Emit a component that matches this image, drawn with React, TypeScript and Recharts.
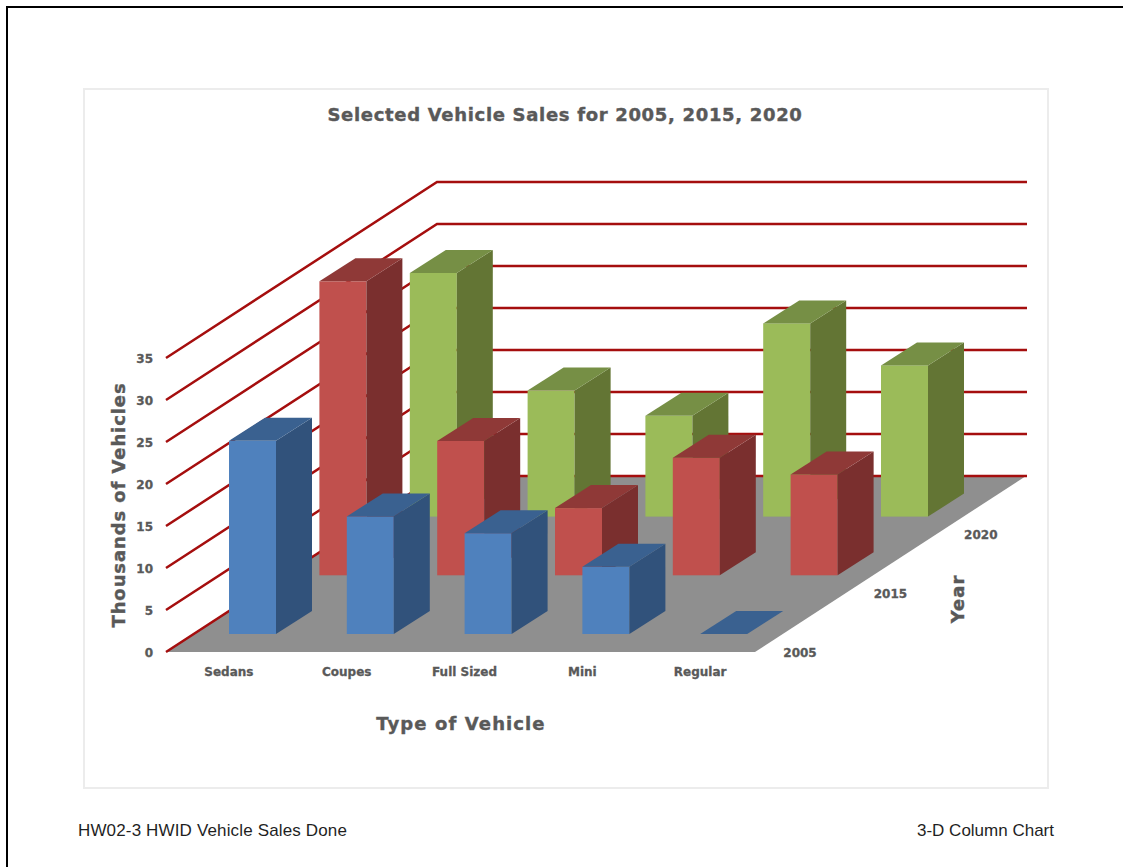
import { Bar, BarChart, CartesianGrid, XAxis, YAxis } from "recharts";

const categories = ["Sedans", "Coupes", "Full Sized", "Mini", "Regular"];
const years = ["2005", "2015", "2020"];
const sales2005 = [23, 14, 12, 8, 0];
const sales2015 = [35, 16, 8, 14, 12];
const sales2020 = [29, 15, 12, 23, 18];
const yTicks = [0, 5, 10, 15, 20, 25, 30, 35];

const data = categories.map((name, i) => ({
    name,
    y2005: sales2005[i],
    y2015: sales2015[i],
    y2020: sales2020[i],
}));

// the fake 3-D projection: one row back moves the mark by this much
const ROW_DX = 90.4;
const ROW_DY = 58.7;
const FRONT_DX = 28;
const FRONT_DY = 18;
const COL_DEPTH_X = 36;
const COL_DEPTH_Y = 23;
const FLOOR_DX = 271;
const FLOOR_DY = 176;

const LEFT = 166;
const RIGHT = 755;
const BASE = 652;

const HEAVY = "'DejaVu Sans', sans-serif";
const TEXT_GRAY = "#595959";

const blue = { front: "#4f81bd", side: "#31527b", top: "#3a6190" };
const red = { front: "#c0504d", side: "#7a2f2e", top: "#8f3937" };
const green = { front: "#9bbb59", side: "#637534", top: "#768f45" };

const labelStyle = { stroke: TEXT_GRAY, strokeWidth: 0.4 };
const tickStyle = { fill: TEXT_GRAY, fontSize: 12, fontWeight: 700, fontFamily: HEAVY, stroke: TEXT_GRAY, strokeWidth: 0.3 };

function column(row: number, colors: { front: string; side: string; top: string }) {
    return (props: any) => {
        const x = props.x + FRONT_DX + row * ROW_DX;
        const y = props.y - FRONT_DY - row * ROW_DY;
        const w = props.width;
        const h = props.height;
        return (
            <g>
                <rect x={x} y={y} width={w} height={h} fill={colors.front} />
                <polygon
                    points={`${x + w},${y} ${x + w + COL_DEPTH_X},${y - COL_DEPTH_Y} ${x + w + COL_DEPTH_X},${y + h - COL_DEPTH_Y} ${x + w},${y + h}`}
                    fill={colors.side}
                />
                <polygon
                    points={`${x},${y} ${x + COL_DEPTH_X},${y - COL_DEPTH_Y} ${x + w + COL_DEPTH_X},${y - COL_DEPTH_Y} ${x + w},${y}`}
                    fill={colors.top}
                />
            </g>
        );
    };
}

// gridlines run up the left wall and then along the back wall, the zero line also carries the floor
function wallLine(props: any) {
    const { x1, y1, index } = props;
    return (
        <g key={index}>
            {Math.abs(y1 - BASE) < 1 && (
                <polygon
                    points={`${LEFT},${BASE} ${RIGHT},${BASE} ${RIGHT + FLOOR_DX},${BASE - FLOOR_DY} ${LEFT + FLOOR_DX},${BASE - FLOOR_DY}`}
                    fill="#8f8f8f"
                />
            )}
            <polyline
                points={`${x1},${y1} ${x1 + FLOOR_DX},${y1 - FLOOR_DY} ${x1 + FLOOR_DX + RIGHT - LEFT + 1},${y1 - FLOOR_DY}`}
                fill="none"
                stroke="#a50e0e"
                strokeWidth={2.5}
            />
        </g>
    );
}

export default function App() {
    return (
        <div style={{ position: "absolute", left: 0, top: 0, width: 1123, height: 867, overflow: "hidden", background: "#fff" }}>
            <div style={{ position: "absolute", left: 6, top: 6, width: 1123, height: 867, borderLeft: "2px solid #000", borderTop: "2px solid #000" }} />
            <div style={{ position: "absolute", left: 83, top: 88, width: 962, height: 697, border: "2px solid #ececec" }} />
            <div style={{ position: "absolute", left: 78, top: 821, font: "17px 'Liberation Sans'", color: "#1f1f1f", letterSpacing: 0.15 }}>HW02-3 HWID Vehicle Sales Done</div>
            <div style={{ position: "absolute", right: 69, top: 821, font: "17px 'Liberation Sans'", color: "#1f1f1f" }}>3-D Column Chart</div>
            <div style={{ position: "absolute", left: 0, top: 0 }}>
                <BarChart
                    width={1123}
                    height={867}
                    data={data}
                    barSize={47}
                    barGap={-47}
                    margin={{ top: 358, right: 368, bottom: 185, left: 106 }}
                >
                    <CartesianGrid vertical={false} horizontal={wallLine} />
                    <XAxis
                        dataKey="name"
                        height={30}
                        axisLine={false}
                        tickLine={false}
                        tickMargin={8}
                        interval={0}
                        tick={{ dx: 4, dy: 1, ...tickStyle }}
                    />
                    <YAxis
                        width={60}
                        domain={[0, 35]}
                        ticks={yTicks}
                        axisLine={false}
                        tickLine={false}
                        tickMargin={7}
                        tick={{ dy: 1, ...tickStyle }}
                    />
                    <Bar dataKey="y2020" isAnimationActive={false} shape={column(2, green)} />
                    <Bar dataKey="y2015" isAnimationActive={false} shape={column(1, red)} />
                    <Bar dataKey="y2005" isAnimationActive={false} shape={column(0, blue)} />
                    {years.map((year, i) => (
                        <text
                            key={year}
                            x={RIGHT + 45 + i * ROW_DX}
                            y={BASE - i * 59.2 + 5}
                            textAnchor="middle"
                            fill={TEXT_GRAY}
                            fontSize={12}
                            fontWeight={700}
                            fontFamily={HEAVY}
                            {...labelStyle}
                            strokeWidth={0.3}
                        >
                            {year}
                        </text>
                    ))}
                    <text x={565} y={121} textAnchor="middle" fill={TEXT_GRAY} fontSize={18} fontWeight={700} fontFamily={HEAVY} letterSpacing={0.68} {...labelStyle}>
                        Selected Vehicle Sales for 2005, 2015, 2020
                    </text>
                    <text x={461} y={730} textAnchor="middle" fill={TEXT_GRAY} fontSize={18} fontWeight={700} fontFamily={HEAVY} letterSpacing={1.1} {...labelStyle}>
                        Type of Vehicle
                    </text>
                    <text transform="translate(125,505) rotate(-90)" textAnchor="middle" fill={TEXT_GRAY} fontSize={18} fontWeight={700} fontFamily={HEAVY} letterSpacing={0.9} {...labelStyle}>
                        Thousands of Vehicles
                    </text>
                    <text transform="translate(964,599) rotate(-90)" textAnchor="middle" fill={TEXT_GRAY} fontSize={18} fontWeight={700} fontFamily={HEAVY} letterSpacing={1} {...labelStyle}>
                        Year
                    </text>
                </BarChart>
            </div>
        </div>
    );
}
